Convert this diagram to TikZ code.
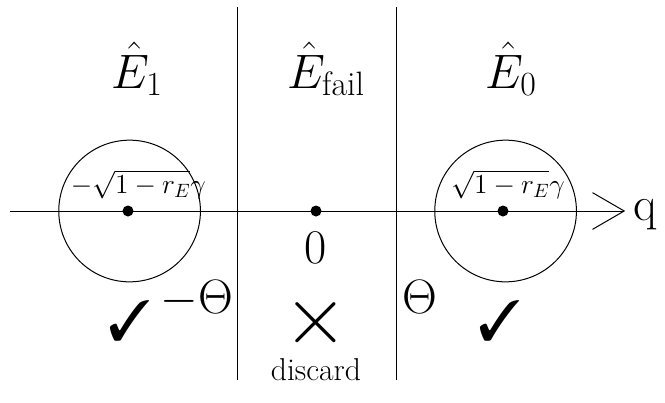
\RequirePackage{fix-cm}
\documentclass[tikz,border=0pt]{standalone}
\usepackage{amsmath}
\usepackage{amssymb}
\usepackage{pifont}
\usepackage{tikz}
\usetikzlibrary{positioning, arrows.meta}

\begin{document}
\begin{tikzpicture}[x=24pt, y=24pt, line width=0.6pt,
    dot/.style={circle, fill, inner sep=0pt, minimum size=6.6pt},
    region/.style={circle, draw, inner sep=0pt, minimum size=85pt},
    big/.style={font=\fontsize{29}{29}\selectfont, inner sep=0pt, anchor=base},
    small/.style={font=\fontsize{16.5}{16.5}\selectfont, inner sep=0pt, anchor=base},
    tick/.style={font=\fontsize{34}{34}\selectfont, inner sep=0pt}]
                \useasboundingbox (-7.9,-4.775) rectangle (8.725,5.275);
                % axis and the two cuts
                \coordinate (qstart) at (-7.65, 0);
                \coordinate (qend) at (7.73, 0);
                \coordinate (cutltop) at (-1.95, 5.1);
                \coordinate (cutlbot) at (-1.95, -4.225);
                \coordinate (cutrtop) at (2.0, 5.1);
                \coordinate (cutrbot) at (2.0, -4.225);
                \draw[-{Straight Barb[length=19pt, width=22pt]}] (qstart) -- (qend);
                \draw (cutltop) -- (cutlbot);
                \draw (cutrtop) -- (cutrbot);
                \node[big] (q) at (8.22, -0.225) {q};
                % the three regions
                \node[big] (Eone) at (-4.475, 3.075) {$\hat{E}_1$};
                \node[big] (Efail) at (0.25, 3.075) {$\hat{E}_{\text{fail}}$};
                \node[big] (Ezero) at (4.875, 3.075) {$\hat{E}_0$};
                % the two circles and their centres
                \node[region] (L) at (-4.66, 0) {};
                \node[region] (R) at (4.74, 0) {};
                \node[dot] (Ldot) at (-4.7, 0) {};
                \node[dot] (Rdot) at (4.675, 0) {};
                \node[dot] (zero) at (0, 0) {};
                \node[small] (Llabel) at (-4.44, 0.45) {$-\sqrt{1-r_E}\gamma$};
                \node[small] (Rlabel) at (4.8, 0.45) {$\sqrt{1-r_E}\gamma$};
                \node[big] (zerolabel) at (0, -1.3) {$0$};
                % thresholds and outcomes
                \node[big] (mtheta) at (-2.975, -2.55) {$-\Theta$};
                \node[big] (theta) at (2.6, -2.55) {$\Theta$};
                \node[tick] (Lok) at (-4.65, -2.75) {\ding{51}};
                \node[tick] (Rok) at (4.6, -2.75) {\ding{51}};
                \node[font=\fontsize{25}{25}\selectfont, inner sep=0pt] (fail) at (0, -2.8) {\scalebox{2}{$\times$}};
                \node[small, font=\fontsize{19}{19}\selectfont] (discard) at (0, -4.225) {discard};
            \end{tikzpicture}
\end{document}
